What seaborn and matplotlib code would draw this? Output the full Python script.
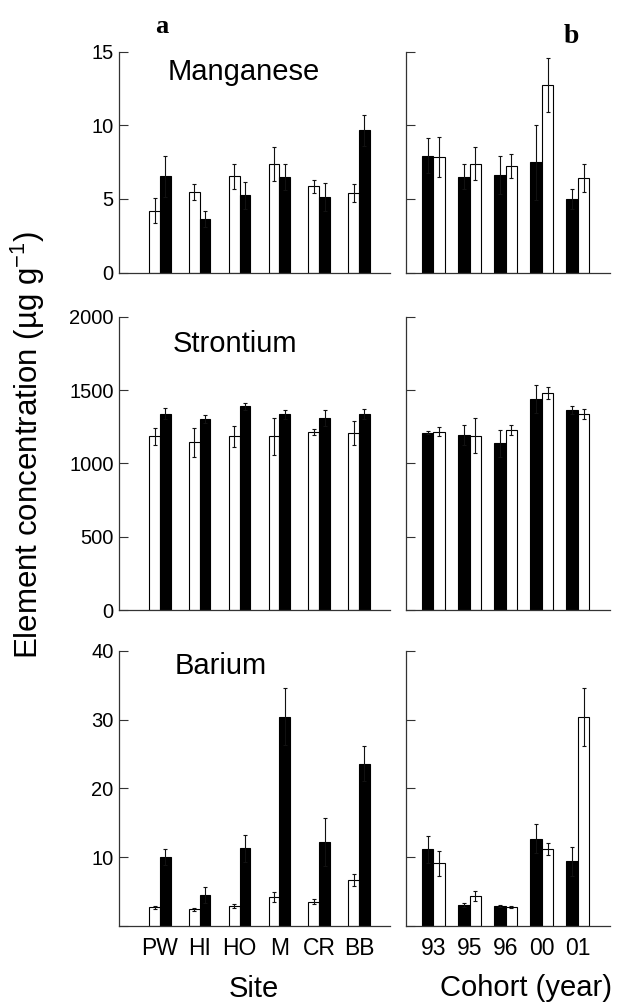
import matplotlib
matplotlib.use("Agg")
import matplotlib.pyplot as plt
import pandas as pd
import seaborn as sns

# ---- data: site comparison (left column) ----
sites = ["PW", "HI", "HO", "M", "CR", "BB"]

mn_site_open = [4.2, 5.45, 6.55, 7.4, 5.85, 5.4]
mn_site_open_err = [0.85, 0.55, 0.85, 1.15, 0.45, 0.6]
mn_site_filled = [6.55, 3.65, 5.25, 6.5, 5.15, 9.65]
mn_site_filled_err = [1.4, 0.55, 0.9, 0.9, 0.95, 1.05]

sr_site_open = [1185, 1145, 1185, 1185, 1215, 1205]
sr_site_open_err = [57, 98, 70, 127, 22, 82]
sr_site_filled = [1340, 1300, 1390, 1335, 1307, 1336]
sr_site_filled_err = [36, 27, 25, 30, 54, 32]

ba_site_open = [2.7, 2.4, 2.9, 4.25, 3.55, 6.7]
ba_site_open_err = [0.2, 0.15, 0.25, 0.75, 0.4, 0.9]
ba_site_filled = [10.0, 4.5, 11.3, 30.4, 12.2, 23.6]
ba_site_filled_err = [1.15, 1.1, 1.95, 4.15, 3.45, 2.6]

# ---- data: cohort comparison (right column) ----
cohorts = ["93", "95", "96", "00", "01"]

mn_coh_filled = [7.95, 6.5, 6.65, 7.5, 5.0]
mn_coh_filled_err = [1.2, 0.85, 1.3, 2.55, 0.65]
mn_coh_open = [7.85, 7.4, 7.25, 12.75, 6.4]
mn_coh_open_err = [1.35, 1.1, 0.8, 1.85, 0.95]

sr_coh_filled = [1210, 1192, 1136, 1441, 1365]
sr_coh_filled_err = [10, 69, 90, 97, 25]
sr_coh_open = [1217, 1189, 1226, 1483, 1337]
sr_coh_open_err = [30, 120, 35, 41, 33]

ba_coh_filled = [11.15, 3.05, 2.9, 12.7, 9.4]
ba_coh_filled_err = [1.95, 0.25, 0.2, 2.15, 2.1]
ba_coh_open = [9.1, 4.35, 2.7, 11.15, 30.4]
ba_coh_open_err = [1.85, 0.7, 0.15, 0.9, 4.2]

elements = ["Manganese", "Strontium", "Barium"]
y_limits = [(0, 15), (0, 2000), (0, 40)]
y_ticks = [[0, 5, 10, 15], [0, 500, 1000, 1500, 2000], [0, 10, 20, 30, 40]]
y_tick_labels = [["0", "5", "10", "15"],
                 ["0", "500", "1000", "1500", "2000"],
                 ["", "10", "20", "30", "40"]]

sns.set_style("ticks")
plt.rcParams["font.family"] = ["Liberation Sans", "DejaVu Sans"]
plt.rcParams["mathtext.fontset"] = "custom"
plt.rcParams["mathtext.rm"] = "Liberation Sans"
plt.rcParams["mathtext.default"] = "regular"
plt.rcParams["text.color"] = "black"
plt.rcParams["xtick.labelcolor"] = "black"
plt.rcParams["ytick.labelcolor"] = "black"

FILL = {"open": "white", "filled": "black"}
AX_COLOR = "#333333"


def long_table(cats, series):
    rows = []
    for name, (vals, errs) in series.items():
        for c, v, e in zip(cats, vals, errs):
            rows.append({"cat": c, "series": name, "value": v, "err": e})
    return pd.DataFrame(rows)


def draw_panel(ax, cats, series, hue_order, width, xlim, ylim, yticks, ylabels):
    df = long_table(cats, series)
    sns.barplot(data=df, x="cat", y="value", hue="series", order=cats,
                hue_order=hue_order, palette=FILL, width=width, saturation=1,
                edgecolor="black", linewidth=0.8, errorbar=None,
                legend=False, ax=ax)
    for name, cont in zip(hue_order, ax.containers):
        sub = df[df["series"] == name].set_index("cat").loc[cats]
        xs = [p.get_x() + p.get_width() / 2 for p in cont.patches]
        ax.errorbar(xs, sub["value"].values, yerr=sub["err"].values,
                    fmt="none", ecolor="#111111", elinewidth=0.8,
                    capsize=1.3, capthick=0.8, zorder=4)
    ax.set_xlim(*xlim)
    ax.set_ylim(*ylim)
    ax.set_yticks(yticks)
    if ylabels is None:
        ax.set_yticklabels([])
    else:
        ax.set_yticklabels(ylabels)
    ax.set_xlabel("")
    ax.set_ylabel("")
    for s in ("top", "right"):
        ax.spines[s].set_visible(False)
    for s in ("left", "bottom"):
        ax.spines[s].set_linewidth(0.9)
        ax.spines[s].set_color(AX_COLOR)
    ax.tick_params(axis="y", direction="in", length=6.5, width=0.8,
                   color=AX_COLOR, labelcolor="black", labelsize=14.5, pad=4)
    ax.tick_params(axis="x", length=0, labelcolor="black", labelsize=16.5, pad=8)
    ax.patch.set_alpha(0)


fig = plt.figure(figsize=(6.21, 10.05), dpi=100)

left_x, left_w = 119.3 / 621, 270.7 / 621
right_x, right_w = 406 / 621, 204 / 621
rows_y = [(0.7287, 0.2199), (0.3930, 0.2918), (0.0786, 0.2739)]

site_series = [
    {"open": (mn_site_open, mn_site_open_err), "filled": (mn_site_filled, mn_site_filled_err)},
    {"open": (sr_site_open, sr_site_open_err), "filled": (sr_site_filled, sr_site_filled_err)},
    {"open": (ba_site_open, ba_site_open_err), "filled": (ba_site_filled, ba_site_filled_err)},
]
cohort_series = [
    {"filled": (mn_coh_filled, mn_coh_filled_err), "open": (mn_coh_open, mn_coh_open_err)},
    {"filled": (sr_coh_filled, sr_coh_filled_err), "open": (sr_coh_open, sr_coh_open_err)},
    {"filled": (ba_coh_filled, ba_coh_filled_err), "open": (ba_coh_open, ba_coh_open_err)},
]
title_pos = [(0.46, 0.872), (0.427, 0.881), (0.374, 0.915)]

for i, (b, h) in enumerate(rows_y):
    axl = fig.add_axes([left_x, b, left_w, h])
    draw_panel(axl, sites, site_series[i], ["open", "filled"], 0.54,
               (-1.02, 5.78), y_limits[i], y_ticks[i], y_tick_labels[i])
    axl.text(*title_pos[i], elements[i], transform=axl.transAxes,
             fontsize=21, ha="center", va="baseline", color="black")

    axr = fig.add_axes([right_x, b, right_w, h])
    draw_panel(axr, cohorts, cohort_series[i], ["filled", "open"], 0.64,
               (-0.76, 4.89), y_limits[i], y_ticks[i], None)

    if i < 2:
        axl.set_xticklabels([])
        axr.set_xticklabels([])

fig.text(28 / 621, 1 - 445 / 1005, "Element concentration (µg g$^{-1}$)",
         rotation=90, ha="center", va="center", fontsize=22.5)
fig.text(254 / 621, 1 - 997 / 1005, "Site", ha="center", va="baseline",
         fontsize=21)
fig.text(526 / 621, 1 - 996 / 1005, "Cohort (year)", ha="center",
         va="baseline", fontsize=21)

fig.text(162 / 621, 1 - 33 / 1005, "a", family=["Liberation Serif", "DejaVu Serif"],
         fontweight="bold", fontsize=19, ha="center", va="baseline")
fig.text(571 / 621, 1 - 43 / 1005, "b", family=["Liberation Serif", "DejaVu Serif"],
         fontweight="bold", fontsize=20, ha="center", va="baseline")

fig.savefig("out.png", dpi=100, facecolor="white")
